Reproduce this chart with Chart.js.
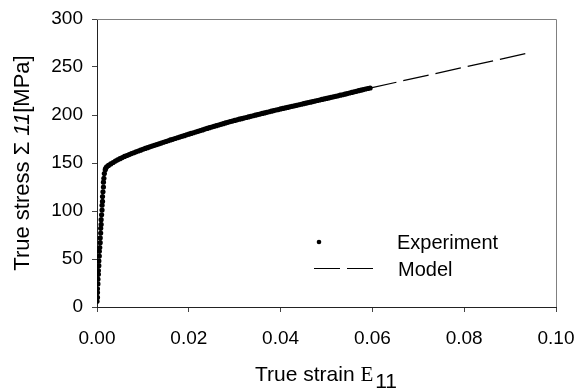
<!DOCTYPE html>
<html>
<head>
<meta charset="utf-8">
<script src="https://cdn.jsdelivr.net/npm/chart.js@4"></script>
<style>
html,body{margin:0;padding:0;background:#fff;}
#wrap{width:575px;height:389px;position:relative;}
</style>
</head>
<body>
<div id="wrap"><canvas id="c" width="575" height="389"></canvas></div>
<script>
// Experiment: elastic part then plastic part (true strain, true stress MPa)
const expStrain = [
  0.0000,0.0001,0.0001,0.0001,0.0002,0.0002,0.0003,0.0003,0.0004,0.0004,
  0.0005,0.0005,0.0006,0.0007,0.0007,0.0008,0.0008,0.0009,0.0009,0.0010,
  0.0011,0.0011,0.0012,0.0012,0.0013,0.0014,0.0014,0.0015,0.0016,0.0018,
  0.0019,0.0021,
  0.0025,0.0030,0.0035,0.0040,0.0045,0.0050,0.0055,0.0060,0.0065,0.0070,
  0.0075,0.0080,0.0085,0.0090,0.0095,0.0100,0.0105,0.0110,0.0115,0.0120,
  0.0125,0.0130,0.0135,0.0140,0.0145,0.0150,0.0155,0.0160,0.0165,0.0170,
  0.0175,0.0180,0.0185,0.0190,0.0195,0.0200,0.0205,0.0210,0.0215,0.0220,
  0.0225,0.0230,0.0235,0.0240,0.0245,0.0250,0.0255,0.0260,0.0265,0.0270,
  0.0275,0.0280,0.0285,0.0290,0.0295,0.0300,0.0305,0.0310,0.0315,0.0320,
  0.0325,0.0330,0.0335,0.0340,0.0345,0.0350,0.0355,0.0360,0.0365,0.0370,
  0.0375,0.0380,0.0385,0.0390,0.0395,0.0400,0.0405,0.0410,0.0415,0.0420,
  0.0425,0.0430,0.0435,0.0440,0.0445,0.0450,0.0455,0.0460,0.0465,0.0470,
  0.0475,0.0480,0.0485,0.0490,0.0495,0.0500,0.0505,0.0510,0.0515,0.0520,
  0.0525,0.0530,0.0535,0.0540,0.0545,0.0550,0.0555,0.0560,0.0565,0.0570,
  0.0575,0.0580,0.0585,0.0590,0.0595
];
const expStress = [
  6,10,15,19,24,29,34,38,43,48,
  53,58,62,67,72,77,82,86,91,96,
  101,106,110,115,120,125,130,134,139,143,
  144.5,146,
  147.5,149,150.5,152,153.3,154.5,155.7,156.8,157.8,158.8,
  159.8,160.7,161.6,162.5,163.4,164.3,165.2,166,166.8,167.6,
  168.4,169.2,170,170.8,171.6,172.4,173.2,174,174.7,175.5,
  176.3,177,177.8,178.5,179.3,180,180.8,181.5,182.3,183,
  183.8,184.5,185.3,186,186.8,187.5,188.2,188.9,189.6,190.3,
  191,191.7,192.4,193.1,193.7,194.4,195,195.6,196.2,196.8,
  197.4,198,198.6,199.2,199.8,200.4,201,201.6,202.2,202.8,
  203.4,204,204.6,205.2,205.7,206.3,206.8,207.4,207.9,208.5,
  209,209.6,210.1,210.7,211.2,211.8,212.3,212.9,213.4,214,
  214.5,215.1,215.6,216.2,216.7,217.3,217.8,218.4,218.9,219.5,
  220,220.6,221.1,221.7,222.3,222.9,223.5,224.1,224.7,225.3,
  225.9,226.5,227.1,227.6,228.1
];
// Model (dashed line)
const modelStrain = [0.0597, 0.0940];
const modelStress = [228.3, 264.6];

const xTicks = [0.00, 0.02, 0.04, 0.06, 0.08, 0.10];
const yTicks = [0, 50, 100, 150, 200, 250, 300];
const seriesNames = ['Experiment', 'Model'];

const SANS = '"Liberation Sans", Arial, sans-serif';
const SERIF = '"Liberation Serif", "Times New Roman", serif';

const expData = expStrain.map((x, i) => ({x: x, y: expStress[i]}));
const modelData = modelStrain.map((x, i) => ({x: x, y: modelStress[i]}));

const decor = {
  id: 'decor',
  afterDraw(chart) {
    const ctx = chart.ctx;
    const a = chart.chartArea;
    ctx.save();
    // top & right frame
    ctx.strokeStyle = '#808080';
    ctx.lineWidth = 1;
    ctx.beginPath();
    ctx.moveTo(a.left, a.top + 0.5);
    ctx.lineTo(a.right + 0.5, a.top + 0.5);
    ctx.lineTo(a.right + 0.5, a.bottom);
    ctx.stroke();

    // legend
    const ds0 = chart.data.datasets[0];
    const ds1 = chart.data.datasets[1];
    ctx.fillStyle = '#000';
    ctx.beginPath();
    ctx.arc(a.left + 222, a.top + 223, 2.3, 0, Math.PI * 2);
    ctx.fill();
    ctx.strokeStyle = '#000';
    ctx.lineWidth = ds1.borderWidth;
    ctx.setLineDash(ds1.borderDash);
    ctx.beginPath();
    ctx.moveTo(a.left + 217, a.top + 249.5);
    ctx.lineTo(a.left + 276, a.top + 249.5);
    ctx.stroke();
    ctx.setLineDash([]);
    ctx.font = '20px ' + SANS;
    ctx.textBaseline = 'alphabetic';
    ctx.textAlign = 'left';
    ctx.fillText(ds0.label, a.left + 300, a.top + 230);
    ctx.fillText(ds1.label, a.left + 301, a.top + 257);

    // x title, centred on the plot area
    const xs = [
      ['True strain ', '21px ' + SANS, 0, 0],
      ['E', '21px ' + SERIF, 0, 2],
      ['11', '21px ' + SANS, 7, 1]
    ];
    let tw = 0;
    xs.forEach(p => { ctx.font = p[1]; tw += ctx.measureText(p[0]).width + p[3]; });
    let x = (a.left + a.right) / 2 - tw / 2, y = 381;
    xs.forEach(p => {
      ctx.font = p[1];
      ctx.fillText(p[0], x, y + p[2]);
      x += ctx.measureText(p[0]).width + p[3];
    });

    // y title (rotated), centred on the plot area
    const parts = [
      ['True stress ', '22px ' + SANS],
      ['\u03A3', '22px ' + SANS],
      [' ', '22px ' + SANS],
      ['11', 'italic 22px ' + SANS],
      ['[MPa]', '22px ' + SANS]
    ];
    let total = 0;
    parts.forEach(p => { ctx.font = p[1]; total += ctx.measureText(p[0]).width; });
    ctx.translate(29, (a.top + a.bottom) / 2);
    ctx.rotate(-Math.PI / 2);
    let px = -total / 2;
    parts.forEach(p => {
      ctx.font = p[1];
      ctx.fillText(p[0], px, 0);
      px += ctx.measureText(p[0]).width;
    });
    ctx.restore();
  }
};

function noPad(s) {
  s.paddingLeft = 0; s.paddingRight = 0; s.paddingTop = 0; s.paddingBottom = 0;
}

new Chart(document.getElementById('c'), {
  type: 'scatter',
  data: {
    datasets: [
      {
        label: seriesNames[0],
        data: expData,
        showLine: false,
        pointRadius: 2.6,
        pointHoverRadius: 2.6,
        pointBackgroundColor: '#000',
        pointBorderWidth: 0,
        backgroundColor: '#000',
        borderColor: '#000'
      },
      {
        label: seriesNames[1],
        data: modelData,
        showLine: true,
        borderColor: '#000',
        borderWidth: 1.2,
        borderDash: [26, 7],
        pointRadius: 0,
        fill: false
      }
    ]
  },
  options: {
    responsive: false,
    animation: false,
    devicePixelRatio: 1,
    layout: { padding: { top: 19, right: 19, left: 0, bottom: 0 } },
    plugins: { legend: { display: false }, tooltip: { enabled: false } },
    scales: {
      x: {
        type: 'linear',
        min: 0, max: 0.1,
        afterBuildTicks: s => { s.ticks = xTicks.map(v => ({value: v})); },
        afterFit: s => { s.height = 82; noPad(s); },
        ticks: {
          color: '#000',
          padding: 15,
          font: { family: SANS, size: 19 },
          callback: v => Number(v).toFixed(2),
          maxRotation: 0
        },
        grid: { drawOnChartArea: false, drawTicks: true, tickLength: 5, color: '#444' },
        border: { display: true, color: '#222', width: 1 }
      },
      y: {
        type: 'linear',
        min: 0, max: 300,
        afterBuildTicks: s => { s.ticks = yTicks.map(v => ({value: v})); },
        afterFit: s => { s.width = 97; noPad(s); },
        ticks: {
          color: '#000',
          padding: 9,
          font: { family: SANS, size: 19 },
          callback: v => String(v)
        },
        grid: { drawOnChartArea: false, drawTicks: true, tickLength: 5, color: '#444' },
        border: { display: true, color: '#222', width: 1 }
      }
    }
  },
  plugins: [decor]
});
</script>
</body>
</html>
